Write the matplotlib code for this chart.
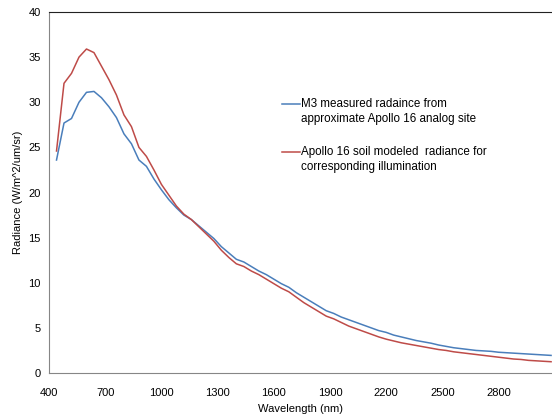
from matplotlib import pyplot as plt

plt.rcParams['font.family'] = ['Liberation Sans', 'DejaVu Sans']

wavelength = [440, 480, 520, 560, 600, 640, 680, 720, 760, 800, 840, 880, 920, 960,
              1000, 1040, 1080, 1120, 1160, 1200, 1240, 1280, 1320, 1360, 1400, 1440,
              1480, 1520, 1560, 1600, 1640, 1680, 1720, 1760, 1800, 1840, 1880, 1920,
              1960, 2000, 2040, 2080, 2120, 2160, 2200, 2240, 2280, 2320, 2360, 2400,
              2440, 2480, 2520, 2560, 2600, 2640, 2680, 2720, 2760, 2800, 2840, 2880,
              2920, 2960, 3000, 3040, 3080]

m3_measured = [23.6, 27.7, 28.2, 30.0, 31.1, 31.2, 30.5, 29.5, 28.3, 26.5, 25.4, 23.6,
               22.9, 21.5, 20.3, 19.2, 18.3, 17.5, 17.0, 16.3, 15.6, 14.9, 14.0, 13.3,
               12.6, 12.3, 11.8, 11.3, 10.9, 10.4, 9.9, 9.5, 8.9, 8.4, 7.9, 7.4, 6.9,
               6.6, 6.2, 5.9, 5.6, 5.3, 5.0, 4.7, 4.5, 4.2, 4.0, 3.8, 3.6, 3.45, 3.3,
               3.1, 2.95, 2.8, 2.7, 2.6, 2.5, 2.45, 2.4, 2.3, 2.25, 2.2, 2.15, 2.1,
               2.05, 2.0, 1.95]

apollo_model = [24.6, 32.1, 33.2, 35.0, 35.9, 35.5, 34.0, 32.5, 30.8, 28.6, 27.3, 25.0,
                24.0, 22.5, 20.9, 19.7, 18.5, 17.6, 17.0, 16.2, 15.4, 14.6, 13.6, 12.8,
                12.1, 11.8, 11.3, 10.9, 10.4, 9.9, 9.4, 9.0, 8.4, 7.8, 7.3, 6.8, 6.3,
                6.0, 5.6, 5.2, 4.9, 4.6, 4.3, 4.0, 3.75, 3.55, 3.35, 3.2, 3.05, 2.9,
                2.75, 2.6, 2.5, 2.35, 2.25, 2.15, 2.05, 1.95, 1.85, 1.75, 1.65, 1.55,
                1.5, 1.4, 1.35, 1.3, 1.25]

xticks = [400, 700, 1000, 1300, 1600, 1900, 2200, 2500, 2800]
yticks = [0, 5, 10, 15, 20, 25, 30, 35, 40]

fig = plt.figure(figsize=(5.52, 4.17), dpi=100)
ax = fig.add_axes([0.0888, 0.1055, 0.9112, 0.8657])

ax.plot(wavelength, m3_measured, color='#4A7EBB', lw=1.1,
        label='M3 measured radaince from\napproximate Apollo 16 analog site')
ax.plot(wavelength, apollo_model, color='#BE4B48', lw=1.1,
        label='Apollo 16 soil modeled  radiance for\ncorresponding illumination')

ax.set_xlim(400, 3085)
ax.set_ylim(0, 40)
ax.set_xticks(xticks)
ax.set_yticks(yticks)
ax.tick_params(length=0, labelsize=8)
ax.tick_params(axis='x', pad=11)
ax.tick_params(axis='y', pad=6)

for s in ['left', 'bottom']:
    ax.spines[s].set_color('#868686')
ax.spines['top'].set_color('#222222')
ax.spines['right'].set_visible(False)

ax.set_xlabel('Wavelength (nm)', fontsize=8, labelpad=4)
ax.set_ylabel('Radiance (W/m^2/um/sr)', fontsize=8, labelpad=4)

leg = ax.legend(loc='upper left', bbox_to_anchor=(0.492, 0.789), bbox_transform=fig.transFigure,
                frameon=False, fontsize=8.4, handlelength=1.5, handletextpad=0.1,
                labelspacing=1.85)
for t in leg.get_texts():
    t.set_linespacing(1.25)
for h in leg.legend_handles:
    h.set_ydata([v + 6 for v in h.get_ydata()])

plt.savefig('out.png', dpi=100)
